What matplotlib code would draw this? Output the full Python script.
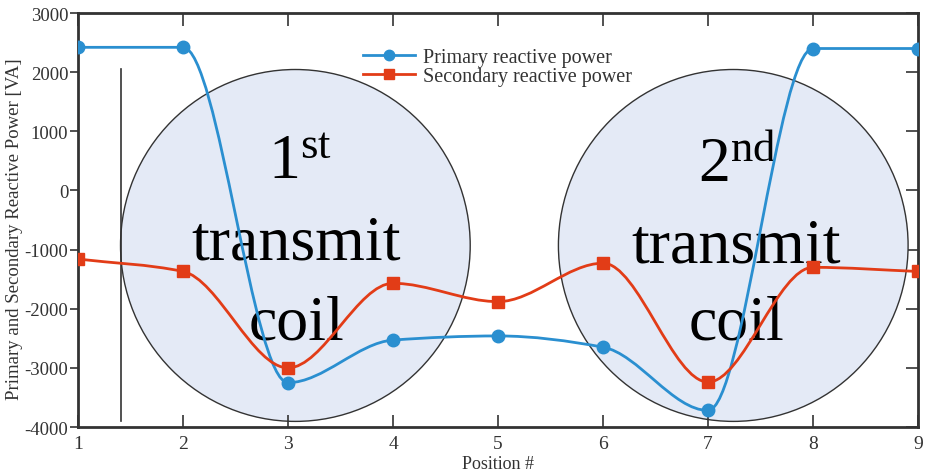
import numpy as np
import matplotlib.pyplot as plt
from matplotlib.patches import Ellipse, PathPatch
from matplotlib.path import Path

plt.rcParams['font.family'] = ['Liberation Serif', 'DejaVu Serif']
plt.rcParams['mathtext.fontset'] = 'custom'
plt.rcParams['mathtext.rm'] = 'Liberation Serif'
plt.rcParams['axes.unicode_minus'] = False

# data
position = [1, 2, 3, 4, 5, 6, 7, 8, 9]
primary = [2420, 2420, -3250, -2530, -2460, -2650, -3720, 2400, 2400]
secondary = [-1160, -1370, -3000, -1570, -1880, -1230, -3240, -1300, -1370]
yticks = [-4000, -3000, -2000, -1000, 0, 1000, 2000, 3000]

blue = '#2a8fd0'
red = '#e23c17'


def smooth_path(x, y):
    # monotone cubic (Fritsch-Carlson) drawn as bezier segments
    x = np.asarray(x, float)
    y = np.asarray(y, float)
    h = np.diff(x)
    d = np.diff(y) / h
    m = np.zeros_like(y)
    m[0], m[-1] = d[0], d[-1]
    for i in range(1, len(y) - 1):
        if d[i - 1] * d[i] > 0:
            w1 = 2 * h[i] + h[i - 1]
            w2 = h[i] + 2 * h[i - 1]
            m[i] = (w1 + w2) / (w1 / d[i - 1] + w2 / d[i])
    verts = [(x[0], y[0])]
    codes = [Path.MOVETO]
    for i in range(len(x) - 1):
        verts += [(x[i] + h[i] / 3, y[i] + m[i] * h[i] / 3),
                  (x[i + 1] - h[i] / 3, y[i + 1] - m[i + 1] * h[i] / 3),
                  (x[i + 1], y[i + 1])]
        codes += [Path.CURVE4] * 3
    return Path(verts, codes)


fig = plt.figure(figsize=(9.33, 4.77), dpi=100)
ax = fig.add_axes([0.0836, 0.1027, 0.9004, 0.8679])
ax.set_xlim(1, 9)
ax.set_ylim(-4000, 3000)

# coil circles
for cx in [3.07, 7.24]:
    ax.add_patch(Ellipse((cx, -930), 3.33, 5950, facecolor='#e4eaf6',
                         edgecolor='#333333', lw=1.0, zorder=1))
ax.plot([1.41, 1.41], [-3900, 2050], color='#333333', lw=1.2, zorder=1)

txt = dict(fontsize=46, ha='center', va='center', color='black', zorder=2)
ax.text(3.11, 450, r'$\mathrm{1^{st}}$', **txt)
ax.text(3.08, -900, 'transmit', **txt)
ax.text(3.08, -2250, 'coil', **txt)
ax.text(7.28, 420, r'$\mathrm{2^{nd}}$', **txt)
ax.text(7.27, -950, 'transmit', **txt)
ax.text(7.27, -2250, 'coil', **txt)

# curves
for vals, col, mk, ms, lab in [(primary, blue, 'o', 9, 'Primary reactive power'),
                               (secondary, red, 's', 8, 'Secondary reactive power')]:
    ax.add_patch(PathPatch(smooth_path(position, vals), facecolor='none',
                           edgecolor=col, lw=2, zorder=3))
    ax.plot(position, vals, ls='none', marker=mk, ms=ms, color=col, zorder=4)
    ax.plot([], [], color=col, lw=2, marker=mk, ms=7.5, label=lab)

leg = ax.legend(loc='upper left', bbox_to_anchor=(0.327, 0.94), frameon=False,
                fontsize=14.5, handlelength=2.6, labelspacing=0.0,
                borderpad=0, handletextpad=0.4)
for t in leg.get_texts():
    t.set_color('#333333')

ax.set_xticks(position)
ax.set_yticks(yticks)
ax.tick_params(axis='x', direction='in', length=9, width=1.2, labelsize=14,
               colors='#333333', pad=6)
ax.tick_params(axis='y', direction='out', length=6, width=1.2, labelsize=13.5,
               colors='#333333', pad=1)
for s in ax.spines.values():
    s.set_linewidth(2)
    s.set_color('#333333')

top = ax.secondary_xaxis('top')
top.set_xticks(position)
top.tick_params(direction='in', length=9, width=1.2, labeltop=False, colors='#333333')
right = ax.secondary_yaxis('right')
right.set_yticks(yticks)
right.tick_params(direction='in', length=9, width=1.2, labelright=False, colors='#333333')

ax.set_xlabel('Position #', fontsize=13, color='#333333', labelpad=2)
ax.set_ylabel('Primary and Secondary Reactive Power [VA]', fontsize=13.5,
              color='#333333')
ax.yaxis.set_label_coords(-0.066, 0.48)

fig.savefig('out.png', dpi=100)
